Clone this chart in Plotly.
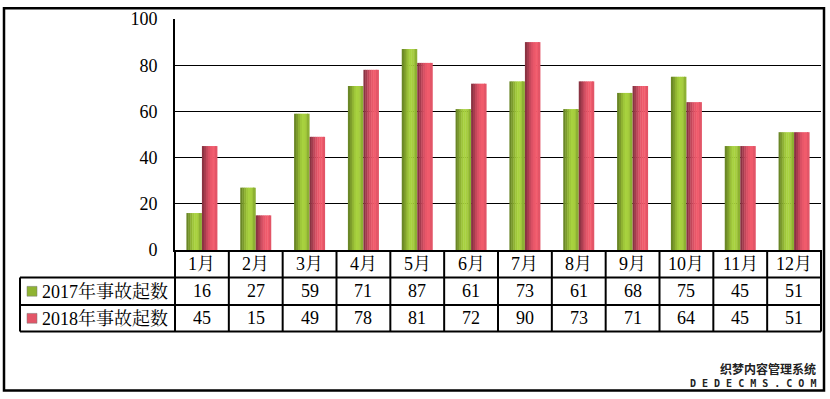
import plotly.graph_objects as go

# ---- data ----
months = ['1月', '2月', '3月', '4月', '5月', '6月', '7月', '8月', '9月', '10月', '11月', '12月']
s2017 = [16, 27, 59, 71, 87, 61, 73, 61, 68, 75, 45, 51]
s2018 = [45, 15, 49, 78, 81, 72, 90, 73, 71, 64, 45, 51]
names = ['2017年事故起数', '2018年事故起数']
yticks = [0, 20, 40, 60, 80, 100]

# ---- geometry helpers (pixel -> paper) ----
W, H = 830, 399
L, R, T, B = 175, 9, 15, 149
PW, PH = W - L - R, H - T - B


def px(x):
    return (x - L) / PW


def py(y):
    return (H - B - y) / PH


FONT = 'Liberation Serif, Noto Serif CJK SC, Noto Sans CJK SC, serif'
FS = 18
green = ['#6a8726', '#7b9b2b', '#8fb332', '#9fc73a', '#a8d23f', '#a7cf3e', '#9dc339', '#8db133']
red = ['#8a3342', '#a53c4e', '#c2475a', '#d95064', '#e85769', '#f05b6c', '#f05a6b', '#e35567']

xs = list(range(len(months)))
fig = go.Figure()
BW = 0.288
N = len(green)
step = BW / N
for series, pal, base in ((s2017, green, -BW), (s2018, red, 0.0)):
    for i, c in enumerate(pal):
        fig.add_bar(x=xs, y=series, offset=base + i * step,
                    width=step * 1.2 if i < N - 1 else step,
                    marker=dict(color=c, line=dict(width=0)),
                    showlegend=False, hoverinfo='skip')

shapes = []
LW = 2
black = '#000000'
n = len(months)


def line(x0, y0, x1, y1, w=LW):
    shapes.append(dict(type='line', xref='paper', yref='paper', x0=x0, y0=y0, x1=x1, y1=y1,
                       line=dict(color=black, width=w), layer='above'))


# table horizontal lines
for yy in (278, 306, 333):
    line(px(20), py(yy), 1, py(yy))
# table vertical lines
line(px(20), py(278), px(20), py(333))
for k in range(n + 1):
    line(k / n, py(250), k / n, py(333))
# legend squares
sq_cols = ['#8fb332', '#e35567']
for j, yc in enumerate((292, 319.5)):
    shapes.append(dict(type='rect', xref='paper', yref='paper', x0=px(27), x1=px(37),
                       y0=py(yc - 5), y1=py(yc + 5), fillcolor=sq_cols[j],
                       line=dict(color='#777777', width=0.5)))
# outer frame
shapes.append(dict(type='rect', xref='paper', yref='paper', x0=px(4), x1=px(824),
                   y0=py(393), y1=py(4), line=dict(color=black, width=2.5), layer='above'))

ann = []
for i, m in enumerate(months):
    ann.append(dict(x=i, xref='x', y=py(264), yref='paper', text=m, showarrow=False,
                    xanchor='center', yanchor='middle', font=dict(family=FONT, size=FS, color=black)))
    ann.append(dict(x=i, xref='x', y=py(292), yref='paper', text=str(s2017[i]), showarrow=False,
                    xanchor='center', yanchor='middle', font=dict(family=FONT, size=FS, color=black)))
    ann.append(dict(x=i, xref='x', y=py(319.5), yref='paper', text=str(s2018[i]), showarrow=False,
                    xanchor='center', yanchor='middle', font=dict(family=FONT, size=FS, color=black)))
for j, yc in enumerate((292, 319.5)):
    ann.append(dict(x=px(40), xref='paper', y=py(yc), yref='paper', text=names[j], showarrow=False,
                    xanchor='left', yanchor='middle', font=dict(family=FONT, size=FS, color=black)))

# watermark
ann.append(dict(x=px(818), xref='paper', y=py(371), yref='paper', text='<b>织梦内容管理系统</b>',
                showarrow=False, xanchor='right', yanchor='middle',
                font=dict(family='Noto Sans CJK SC', size=12, color='#222222')))
ann.append(dict(x=px(818), xref='paper', y=py(386), yref='paper', text='<b>D E D E C M S . C O M</b>',
                showarrow=False, xanchor='right', yanchor='middle',
                font=dict(family='DejaVu Sans Mono', size=10, color='#222222')))

fig.update_layout(
    width=W, height=H,
    margin=dict(l=L, r=R, t=T, b=B, pad=0),
    paper_bgcolor='white', plot_bgcolor='white',
    barmode='overlay',
    showlegend=False,
    shapes=shapes,
    annotations=ann,
    xaxis=dict(range=[-0.5, n - 0.5], showticklabels=False, showgrid=False, zeroline=False,
               showline=True, linecolor=black, linewidth=LW, ticks='', fixedrange=True),
    yaxis=dict(range=[0, 100], tickvals=yticks, showgrid=True, gridcolor=black, gridwidth=1.3,
               zeroline=False, showline=True, linecolor=black, linewidth=LW, ticks='',
               ticklabelstandoff=12, tickfont=dict(family=FONT, size=FS, color=black),
               fixedrange=True),
)

fig.write_html('out.html', config={'displayModeBar': False},
               post_script="document.body.style.margin='0';document.body.style.overflow='hidden';")
